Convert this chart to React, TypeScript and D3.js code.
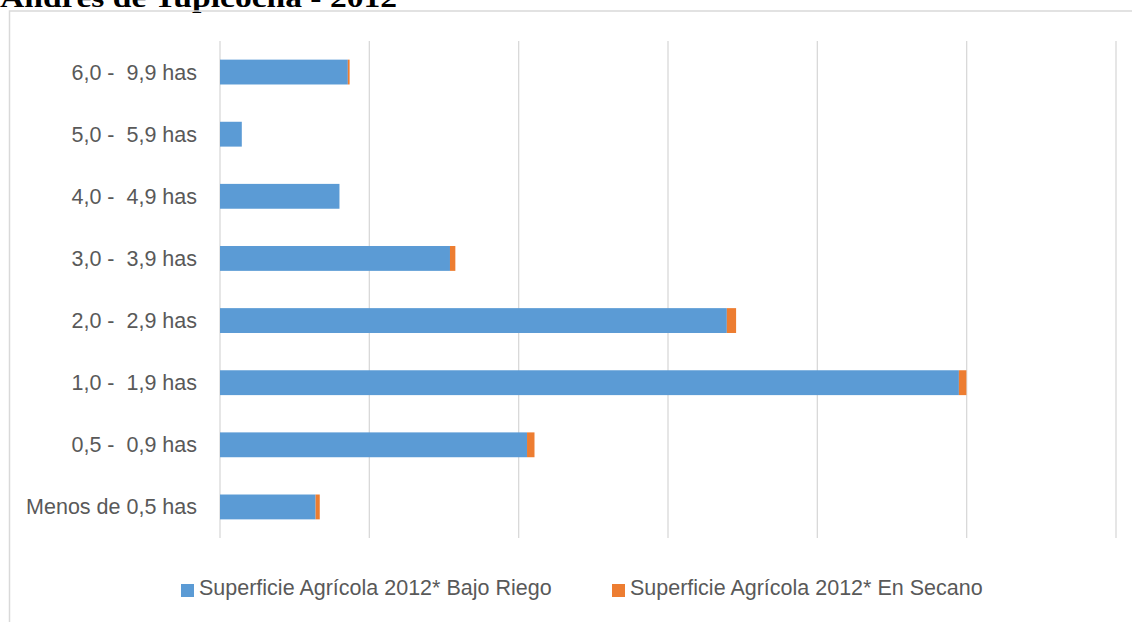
import React from "react";
import * as d3 from "d3";

const categories = [
  "6,0 -  9,9 has",
  "5,0 -  5,9 has",
  "4,0 -  4,9 has",
  "3,0 -  3,9 has",
  "2,0 -  2,9 has",
  "1,0 -  1,9 has",
  "0,5 -  0,9 has",
  "Menos de 0,5 has",
];
const bajoRiego = [42.8, 7.3, 40.0, 77.0, 169.7, 247.4, 102.8, 32.0];
const enSecano = [0.6, 0, 0, 1.8, 3.1, 2.5, 2.5, 1.4];
const seriesNames = [
  "Superficie Agrícola 2012* Bajo Riego",
  "Superficie Agrícola 2012* En Secano",
];
const xTicks = [0, 50, 100, 150, 200, 250, 300];
const title = "Andrés de Tupicocha - 2012";

const W = 1132;
const H = 622;
const BLUE = "#5B9BD5";
const ORANGE = "#ED7D31";
const GRID = "#d9d9d9";
const TEXT = "#595959";
const FONT = "'Liberation Sans', Arial, sans-serif";

export default function App() {
  const x = d3.scaleLinear().domain([0, 300]).range([220, 1116]);
  const y = d3
    .scaleBand<string>()
    .domain(categories)
    .range([41, 538])
    .paddingInner(0.6)
    .paddingOuter(0.3);

  return (
    <svg
      width={W}
      height={H}
      style={{ position: "absolute", left: 0, top: 0, background: "#fff" }}
    >
      <text
        x={0}
        y={7}
        fontFamily="'Liberation Serif', 'Times New Roman', serif"
        fontWeight="bold"
        fontSize={28}
        textLength={397}
        lengthAdjust="spacingAndGlyphs"
        fill="#000"
      >
        {title}
      </text>
      {/* chart frame */}
      <path
        d={`M9.5,${H + 5} V11 H${W + 5}`}
        fill="none"
        stroke={GRID}
        strokeWidth={1.5}
      />
      {/* gridlines */}
      {xTicks.map((t) => (
        <line
          key={t}
          x1={x(t)}
          x2={x(t)}
          y1={41}
          y2={538}
          stroke={GRID}
          strokeWidth={1.3}
        />
      ))}
      {/* bars */}
      {categories.map((c, i) => {
        const y0 = y(c)!;
        const bh = y.bandwidth();
        return (
          <g key={c}>
            <rect
              x={x(0)}
              y={y0}
              width={x(bajoRiego[i]) - x(0)}
              height={bh}
              fill={BLUE}
            />
            {enSecano[i] > 0 && (
              <rect
                x={x(bajoRiego[i])}
                y={y0}
                width={x(bajoRiego[i] + enSecano[i]) - x(bajoRiego[i])}
                height={bh}
                fill={ORANGE}
              />
            )}
            <text
              x={197}
              y={y0 + bh / 2}
              dy="0.35em"
              textAnchor="end"
              fontFamily={FONT}
              fontSize={21.5}
              fill={TEXT}
              style={{ whiteSpace: "pre" }}
            >
              {c}
            </text>
          </g>
        );
      })}
      {/* legend */}
      {[
        { name: seriesNames[0], color: BLUE, sx: 181 },
        { name: seriesNames[1], color: ORANGE, sx: 612 },
      ].map((l) => (
        <g key={l.name}>
          <rect x={l.sx} y={584} width={13} height={13} fill={l.color} />
          <text
            x={l.sx + 18}
            y={595}
            fontFamily={FONT}
            fontSize={21.5}
            fill={TEXT}
          >
            {l.name}
          </text>
        </g>
      ))}
    </svg>
  );
}
